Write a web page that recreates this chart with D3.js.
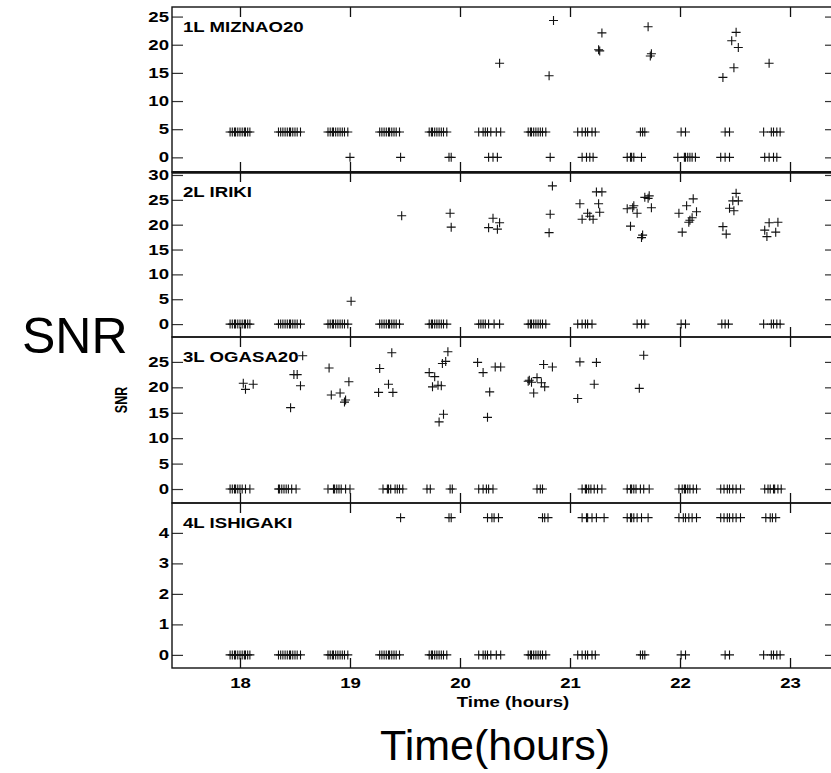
<!DOCTYPE html>
<html><head><meta charset="utf-8">
<script src="https://cdn.jsdelivr.net/npm/d3@7"></script>
<style>body{margin:0;background:#fff}svg{display:block}</style>
</head><body><svg id="c" width="831" height="773"></svg>
<script>
// ---------- data ----------
const hourTicks = [18, 19, 20, 21, 22, 23];
const panelNames = ["1L MIZNAO20", "2L IRIKI", "3L OGASA20", "4L ISHIGAKI"];
const yTicksMiznao = [0, 5, 10, 15, 20, 25];
const yTicksIriki = [0, 5, 10, 15, 20, 25, 30];
const yTicksOgasa = [0, 5, 10, 15, 20, 25];
const yTicksIshigaki = [0, 1, 2, 3, 4];

const miznaoAt45 = [17.91,17.93,17.95,17.96,17.98,18.00,18.02,18.04,18.05,18.07,18.09,
  18.35,18.37,18.39,18.41,18.43,18.45,18.46,18.48,18.50,18.52,18.55,
  18.80,18.82,18.84,18.85,18.87,18.89,18.91,18.93,18.95,18.98,
  19.27,19.29,19.31,19.33,19.35,19.36,19.38,19.40,19.42,19.45,
  19.72,19.74,19.75,19.77,19.79,19.81,19.83,19.85,19.88,
  20.17,20.21,20.23,20.25,20.28,20.33,20.37,
  20.62,20.64,20.65,20.67,20.69,20.71,20.73,20.75,20.78,
  21.07,21.11,21.14,21.16,21.20,21.23,
  21.64,21.66,21.68, 22.01,22.05, 22.41,22.45,
  22.76,22.83,22.85,22.88,22.91];
const miznaoAt0 = [19.00,19.46,19.90,19.92,20.26,20.30,20.34,20.82,
  21.11,21.15,21.18,21.21,21.52,21.55,21.56,21.58,21.65,
  21.98,22.04,22.05,22.07,22.09,22.11,22.14,22.37,22.41,22.45,
  22.77,22.81,22.85,22.88];
const miznaoHigh = [[20.36,16.7],[20.85,24.3],[20.81,14.5],[21.29,22.1],[21.26,19.1],[21.27,18.9],
  [21.71,23.2],[21.74,18.4],[21.73,18.0],[22.51,22.2],[22.47,20.7],[22.53,19.5],[22.49,15.9],
  [22.39,14.2],[22.81,16.7]];

const irikiAt0 = [17.91,17.93,17.95,17.96,17.98,18.00,18.02,18.04,18.05,18.07,18.09,
  18.35,18.37,18.39,18.41,18.43,18.45,18.46,18.48,18.50,18.52,18.55,
  18.80,18.82,18.84,18.85,18.87,18.89,18.91,18.93,18.95,18.98,
  19.27,19.29,19.31,19.33,19.35,19.36,19.38,19.40,19.42,19.45,
  19.72,19.74,19.75,19.77,19.79,19.81,19.83,19.85,19.88,
  20.17,20.19,20.21,20.23,20.26,20.31,20.36,
  20.62,20.64,20.65,20.67,20.69,20.71,20.73,20.75,20.78,
  21.07,21.11,21.14,21.16,21.20,
  21.61,21.65,21.68, 22.01,22.05, 22.38,22.41,22.44,
  22.76,22.83,22.85,22.88,22.91];
const irikiHigh = [[19.01,4.6],[19.47,21.8],[19.91,22.3],[19.92,19.5],[20.26,19.4],[20.30,21.3],
  [20.36,20.4],[20.34,19.1],[20.84,27.8],[20.82,22.1],[20.81,18.4],[21.24,26.6],[21.29,26.6],
  [21.09,24.2],[21.26,24.2],[21.16,22.3],[21.27,22.5],[21.11,21.1],[21.18,21.7],[21.21,21.1],
  [21.68,25.5],[21.72,25.8],[21.71,25.3],[21.52,23.2],[21.58,23.8],[21.57,23.4],[21.61,22.3],
  [21.74,23.4],[21.55,19.7],[21.66,17.9],[21.65,17.4],[22.12,25.2],[22.06,23.8],[21.99,22.3],
  [22.15,22.6],[22.11,21.4],[22.09,20.9],[22.08,20.5],[22.02,18.5],[22.51,26.3],[22.48,24.8],
  [22.53,24.8],[22.45,23.3],[22.49,22.8],[22.39,19.6],[22.42,18.1],[22.81,20.4],[22.89,20.5],
  [22.77,18.9],[22.87,18.5],[22.79,17.6]];

const ogasaAt0 = [17.91,17.93,17.95,17.96,17.98,18.00,18.02,18.05,18.09,
  18.35,18.36,18.38,18.40,18.42,18.44,18.47,18.51,
  18.80,18.85,18.86,18.88,18.90,18.92,18.96,19.00,
  19.30,19.34,19.35,19.37,19.41,19.43,19.45,19.48,
  19.70,19.73, 19.91,19.93,
  20.17,20.21,20.24,20.26,20.30, 20.70,20.73,20.75,
  21.11,21.14,21.15,21.17,21.19,21.22,21.25,21.29,
  21.52,21.55,21.56,21.58,21.60,21.64,21.67,21.72,
  21.99,22.02,22.04,22.05,22.07,22.09,22.12,22.15,
  22.37,22.40,22.43,22.45,22.48,22.51,22.55,
  22.77,22.80,22.82,22.85,22.86,22.89,22.92];
const ogasaHigh = [[18.03,20.8],[18.05,19.6],[18.12,20.6],[18.57,26.2],[18.49,22.5],[18.52,22.5],
  [18.55,20.3],[18.46,16.0],[18.81,23.8],[18.83,18.5],[18.91,18.9],[18.96,17.5],[18.95,17.1],
  [18.99,21.1],[19.27,23.7],[19.38,26.8],[19.26,19.0],[19.35,20.6],[19.39,19.0],[19.72,22.9],
  [19.77,22.1],[19.75,20.1],[19.80,20.4],[19.83,20.3],[19.84,24.7],[19.87,25.1],[19.89,27.0],
  [19.81,13.2],[19.85,14.7],[20.16,24.9],[20.21,22.9],[20.27,19.1],[20.25,14.1],[20.32,24.0],
  [20.37,24.0],[20.63,21.4],[20.65,21.0],[20.62,21.2],[20.70,21.9],[20.74,20.9],[20.77,20.1],
  [20.67,18.9],[20.76,24.5],[20.84,24.0],[21.09,25.0],[21.24,24.9],[21.22,20.6],[21.07,17.8],
  [21.67,26.3],[21.63,19.8]];

const ishigakiAt0 = miznaoAt45.slice();
const ishigakiAt45 = [19.46,19.90,19.92,20.25,20.29,20.31,20.35,20.75,20.77,20.80,
  21.11,21.15,21.16,21.20,21.24,21.31,
  21.52,21.55,21.56,21.58,21.61,21.65,21.71,
  21.99,22.03,22.05,22.08,22.11,22.15,
  22.37,22.40,22.43,22.45,22.48,22.51,22.55,
  22.78,22.82,22.84,22.87];

// ---------- layout ----------
const svg = d3.select("#c");
const FONT = "'Liberation Sans', Arial, Helvetica, sans-serif";
const SX = 1.33; // horizontal stretch of the original bold labels
const left = 172, right = 836;
const x = d3.scaleLinear().domain([17.382, 23.418]).range([left, right]);

const panels = [
  {name: panelNames[0], top: 7, bottom: 172, domain: [-2.6, 26.7], ticks: yTicksMiznao,
   pts: miznaoAt45.map(t => [t, 4.5]).concat(miznaoAt0.map(t => [t, 0]), miznaoHigh)},
  {name: panelNames[1], top: 172, bottom: 337, domain: [-2.6, 30.6], ticks: yTicksIriki,
   pts: irikiAt0.map(t => [t, 0]).concat(irikiHigh)},
  {name: panelNames[2], top: 337, bottom: 503, domain: [-2.75, 29.9], ticks: yTicksOgasa,
   pts: ogasaAt0.map(t => [t, 0]).concat(ogasaHigh)},
  {name: panelNames[3], top: 503, bottom: 668, domain: [-0.43, 4.98], ticks: yTicksIshigaki,
   pts: ishigakiAt0.map(t => [t, 0]).concat(ishigakiAt45.map(t => [t, 4.5]))}
];

const clipId = "clipAll";
svg.append("defs").append("clipPath").attr("id", clipId)
  .append("rect").attr("x", left).attr("y", 0).attr("width", right - left).attr("height", 773);

panels.forEach((p, i) => {
  const y = d3.scaleLinear().domain(p.domain).range([p.bottom, p.top]);
  const g = svg.append("g");

  // markers
  const m = g.append("g").attr("clip-path", `url(#${clipId})`);
  m.selectAll("path").data(p.pts).join("path")
    .attr("d", d => {
      const px = x(d[0]), py = y(d[1]);
      return `M${px - 4.5},${py}H${px + 4.5}M${px},${py - 4.5}V${py + 4.5}`;
    })
    .attr("stroke", "#111").attr("stroke-width", 1.1).attr("fill", "none");

  // left axis
  const la = g.append("g").attr("transform", `translate(${left},0)`)
    .call(d3.axisLeft(y).tickValues(p.ticks).tickSize(-11).tickSizeOuter(0).tickPadding(3)
      .tickFormat(d3.format("d")));
  la.select(".domain").remove();
  la.selectAll("line").attr("stroke", "#333").attr("stroke-width", 1.2);
  la.selectAll("text").attr("font-family", FONT).attr("font-weight", "bold")
    .attr("font-size", 14).attr("fill", "#000")
    .attr("transform", `scale(${SX},1)`).attr("x", -3 / SX);

  // right axis (ticks only)
  const ra = g.append("g").attr("transform", `translate(${right},0)`)
    .call(d3.axisRight(y).tickValues(p.ticks).tickSize(-11).tickSizeOuter(0).tickFormat(""));
  ra.select(".domain").remove();
  ra.selectAll("line").attr("stroke", "#333").attr("stroke-width", 1.2);

  // top / bottom hour ticks
  const ta = g.append("g").attr("transform", `translate(0,${p.top})`)
    .call(d3.axisTop(x).tickValues(hourTicks).tickSize(-10).tickSizeOuter(0).tickFormat(""));
  ta.select(".domain").remove();
  ta.selectAll("line").attr("stroke", "#111").attr("stroke-width", 1.3);
  const ba = g.append("g").attr("transform", `translate(0,${p.bottom})`)
    .call(d3.axisBottom(x).tickValues(hourTicks).tickSize(-10).tickSizeOuter(0).tickPadding(10)
      .tickFormat(i === 3 ? d3.format("d") : ""));
  ba.select(".domain").remove();
  ba.selectAll("line").attr("stroke", "#111").attr("stroke-width", 1.3);
  ba.selectAll("text").attr("font-family", FONT).attr("font-weight", "bold")
    .attr("font-size", 14).attr("fill", "#000").attr("transform", `scale(${SX},1)`);

  // frame
  g.append("rect").attr("x", left).attr("y", p.top).attr("width", right - left)
    .attr("height", p.bottom - p.top).attr("fill", "none").attr("stroke", "#111").attr("stroke-width", 1.4);

  // panel label
  g.append("text").attr("transform", `translate(${left + 11},${p.top + 25}) scale(${SX},1)`)
    .attr("font-family", FONT).attr("font-weight", "bold").attr("font-size", 14)
    .attr("fill", "#000").text(p.name);
});

// thicker separator between panel 1 and 2
svg.append("line").attr("x1", left).attr("x2", right).attr("y1", 172.5).attr("y2", 172.5)
  .attr("stroke", "#111").attr("stroke-width", 2.6);

// inner axis titles
svg.append("text").attr("transform", `translate(513,707) scale(${SX},1)`)
  .attr("text-anchor", "middle").attr("font-family", FONT).attr("font-weight", "bold")
  .attr("font-size", 14).text("Time (hours)");
svg.append("text").attr("transform", `translate(127,400) scale(1.3,1) rotate(-90)`)
  .attr("text-anchor", "middle").attr("font-family", FONT).attr("font-weight", "bold")
  .attr("font-size", 12.5).text("SNR");

// large outer titles
svg.append("text").attr("x", 22).attr("y", 353).attr("font-family", FONT)
  .attr("font-size", 50).attr("fill", "#000").text("SNR");
svg.append("text").attr("x", 380).attr("y", 760).attr("font-family", FONT)
  .attr("font-size", 43).attr("fill", "#000").text("Time(hours)");
</script>
</body></html>
